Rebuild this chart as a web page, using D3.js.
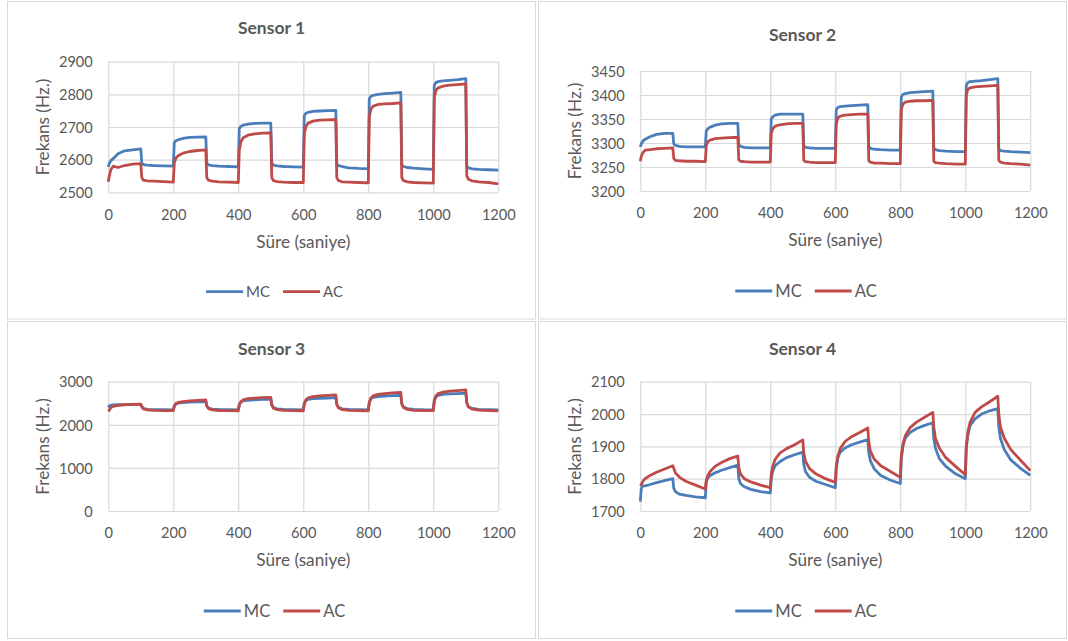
<!DOCTYPE html>
<html>
<head>
<meta charset="utf-8">
<script src="https://cdn.jsdelivr.net/npm/d3@7"></script>
<style>
  body { margin: 0; background: #fff; }
  svg text { font-family: Lato, "Open Sans", sans-serif; fill: #595959; }
</style>
</head>
<body>
<svg id="chart" width="1068" height="641"></svg>
<script>
// Sampling instants (s) shared by every sensor trace
const time = [
  0, 3, 8, 15, 30, 50, 75, 100, 103, 108, 120, 140, 170,
  200, 203, 208, 215, 230, 250, 275, 300, 303, 308, 320, 340, 370,
  400, 403, 408, 415, 430, 450, 475, 500, 503, 508, 520, 540, 570,
  600, 603, 608, 615, 630, 650, 675, 700, 703, 708, 720, 740, 770,
  800, 803, 808, 815, 830, 850, 875, 900, 903, 908, 920, 940, 970,
  1000, 1003, 1008, 1015, 1030, 1050, 1075, 1100, 1103, 1108, 1120, 1140, 1170,
  1200
];

const seriesNames = ["MC", "AC"];
const xTicks = [0, 200, 400, 600, 800, 1000, 1200];

// Sensor 1 frequency (Hz)
const sensor1MC = [
  2578, 2588, 2597, 2603, 2618, 2627, 2630, 2633, 2590, 2585, 2583, 2582, 2581,
  2580, 2652, 2658, 2661, 2665, 2668, 2669, 2670, 2590, 2584, 2582, 2580, 2579,
  2578, 2695, 2702, 2706, 2709, 2711, 2712, 2712, 2590, 2583, 2581, 2579, 2578,
  2577, 2735, 2742, 2745, 2748, 2749, 2750, 2751, 2588, 2582, 2579, 2575, 2573,
  2572, 2786, 2794, 2797, 2800, 2802, 2804, 2806, 2585, 2579, 2576, 2574, 2572,
  2570, 2828, 2836, 2839, 2841, 2843, 2845, 2848, 2580, 2575, 2572, 2570, 2569,
  2568
];
const sensor1AC = [
  2532, 2550, 2570, 2580, 2576, 2582, 2586, 2588, 2545, 2537, 2535, 2534, 2533,
  2531, 2590, 2605, 2612, 2620, 2625, 2628, 2630, 2545, 2537, 2534, 2532, 2531,
  2530, 2630, 2655, 2667, 2675, 2679, 2681, 2682, 2545, 2536, 2533, 2531, 2530,
  2530, 2680, 2702, 2712, 2718, 2721, 2722, 2723, 2545, 2536, 2532, 2531, 2530,
  2529, 2730, 2755, 2764, 2769, 2771, 2772, 2774, 2545, 2536, 2532, 2530, 2529,
  2528, 2790, 2812, 2820, 2825, 2828, 2830, 2832, 2550, 2540, 2535, 2532, 2530,
  2526
];
const sensor1YTicks = [2500, 2600, 2700, 2800, 2900];

// Sensor 2 frequency (Hz)
const sensor2MC = [
  3292, 3298, 3304, 3308, 3313, 3318, 3320, 3320, 3298, 3295, 3293, 3292, 3292,
  3292, 3325, 3330, 3333, 3337, 3340, 3341, 3341, 3297, 3293, 3291, 3290, 3290,
  3290, 3350, 3355, 3358, 3360, 3360, 3360, 3360, 3294, 3291, 3290, 3289, 3289,
  3289, 3370, 3374, 3376, 3377, 3378, 3379, 3380, 3292, 3289, 3287, 3286, 3285,
  3285, 3396, 3401, 3403, 3405, 3406, 3407, 3408, 3290, 3286, 3284, 3283, 3282,
  3282, 3420, 3426, 3428, 3429, 3430, 3432, 3434, 3288, 3284, 3283, 3282, 3281,
  3280
];
const sensor2AC = [
  3262, 3272, 3280, 3285, 3286, 3288, 3289, 3290, 3268, 3264, 3263, 3262, 3262,
  3261, 3295, 3303, 3306, 3309, 3310, 3311, 3312, 3265, 3262, 3261, 3260, 3260,
  3260, 3320, 3330, 3335, 3338, 3340, 3341, 3341, 3264, 3261, 3260, 3259, 3259,
  3259, 3340, 3352, 3356, 3358, 3359, 3360, 3360, 3263, 3260, 3258, 3258, 3257,
  3257, 3370, 3381, 3385, 3387, 3388, 3388, 3389, 3262, 3259, 3258, 3257, 3256,
  3256, 3400, 3412, 3415, 3417, 3418, 3419, 3420, 3264, 3260, 3258, 3257, 3256,
  3254
];
const sensor2YTicks = [3200, 3250, 3300, 3350, 3400, 3450];

// Sensor 3 frequency (Hz)
const sensor3MC = [
  2400, 2440, 2455, 2460, 2465, 2470, 2472, 2475, 2420, 2380, 2360, 2352, 2350,
  2348, 2440, 2490, 2505, 2515, 2525, 2532, 2540, 2440, 2390, 2365, 2355, 2350,
  2348, 2470, 2530, 2555, 2570, 2580, 2590, 2598, 2460, 2400, 2370, 2355, 2350,
  2348, 2490, 2560, 2590, 2605, 2615, 2622, 2630, 2470, 2405, 2372, 2355, 2350,
  2348, 2520, 2600, 2635, 2655, 2668, 2675, 2682, 2480, 2410, 2375, 2357, 2350,
  2348, 2560, 2650, 2685, 2705, 2718, 2725, 2735, 2500, 2420, 2380, 2360, 2352,
  2345
];
const sensor3AC = [
  2310, 2340, 2400, 2430, 2450, 2465, 2475, 2480, 2420, 2370, 2345, 2333, 2330,
  2328, 2430, 2490, 2520, 2540, 2555, 2565, 2575, 2440, 2375, 2345, 2332, 2328,
  2326, 2460, 2540, 2580, 2605, 2620, 2630, 2638, 2460, 2385, 2350, 2333, 2328,
  2326, 2490, 2580, 2625, 2655, 2673, 2685, 2695, 2480, 2395, 2352, 2335, 2328,
  2326, 2520, 2620, 2670, 2705, 2725, 2740, 2750, 2500, 2405, 2357, 2337, 2330,
  2328, 2560, 2670, 2725, 2760, 2780, 2795, 2810, 2520, 2415, 2362, 2340, 2332,
  2325
];
const sensor3YTicks = [0, 1000, 2000, 3000];

// Sensor 4 frequency (Hz)
const sensor4MC = [
  1729, 1770, 1778, 1778, 1782, 1788, 1794, 1800, 1770, 1760, 1752, 1748, 1744,
  1741, 1790, 1803, 1810, 1818, 1826, 1834, 1842, 1800, 1785, 1775, 1767, 1760,
  1756, 1800, 1825, 1840, 1853, 1865, 1874, 1882, 1845, 1822, 1805, 1792, 1782,
  1772, 1830, 1865, 1882, 1895, 1905, 1913, 1921, 1880, 1855, 1830, 1810, 1795,
  1785, 1860, 1900, 1925, 1943, 1955, 1965, 1973, 1925, 1895, 1862, 1838, 1815,
  1800, 1895, 1935, 1965, 1985, 2000, 2010, 2017, 1960, 1925, 1890, 1858, 1832,
  1810
];
const sensor4AC = [
  1778, 1782, 1792, 1800, 1810, 1820, 1830, 1840, 1832, 1818, 1805, 1792, 1780,
  1768, 1795, 1810, 1822, 1838, 1850, 1862, 1870, 1835, 1815, 1800, 1790, 1780,
  1772, 1815, 1840, 1860, 1880, 1893, 1905, 1920, 1880, 1855, 1832, 1815, 1800,
  1788, 1840, 1870, 1893, 1915, 1930, 1943, 1957, 1915, 1885, 1860, 1840, 1822,
  1804, 1870, 1905, 1932, 1958, 1975, 1990, 2005, 1960, 1925, 1895, 1865, 1838,
  1812, 1900, 1945, 1975, 2005, 2022, 2038, 2055, 2000, 1960, 1925, 1890, 1857,
  1825
];
const sensor4YTicks = [1700, 1800, 1900, 2000, 2100];

const colors = { MC: "#4a7ebb", AC: "#be4b48" };

// Panel geometry: outer frame, plot rectangle and text anchors
const panels = [
  { title: "Sensor 1", mc: sensor1MC, ac: sensor1AC, yTicks: sensor1YTicks,
    frame: [7.5, 1.5, 528, 317.5], plot: [108.3, 498.3, 61.7, 192.3],
    titleY: 27.5, xTickY: 215, xTitleY: 242, legendY: 291.7, legendCx: 274.5, legendFont: 15 },
  { title: "Sensor 2", mc: sensor2MC, ac: sensor2AC, yTicks: sensor2YTicks,
    frame: [538.5, 1.5, 528, 317.5], plot: [640.3, 1030.3, 71, 191],
    titleY: 34.7, xTickY: 212.3, xTitleY: 240, legendY: 291, legendCx: 806, legendFont: 16.6 },
  { title: "Sensor 3", mc: sensor3MC, ac: sensor3AC, yTicks: sensor3YTicks,
    frame: [7.5, 321.5, 528, 317], plot: [108.3, 498.3, 381.7, 511],
    titleY: 348.3, xTickY: 532.3, xTitleY: 560, legendY: 611, legendCx: 274.5, legendFont: 16.6 },
  { title: "Sensor 4", mc: sensor4MC, ac: sensor4AC, yTicks: sensor4YTicks,
    frame: [538.5, 321.5, 528, 317], plot: [640.3, 1030.3, 381.7, 511],
    titleY: 348.3, xTickY: 532.3, xTitleY: 560, legendY: 611, legendCx: 806, legendFont: 16.6 }
];

const svg = d3.select("#chart");
const gridColor = "#d9d9d9";
const fontStack = "Lato, 'Open Sans', sans-serif";

panels.forEach(p => {
  const [fx, fy, fw, fh] = p.frame;
  const [x0, x1, yTop, yBot] = p.plot;
  const g = svg.append("g");

  g.append("rect")
    .attr("x", fx).attr("y", fy).attr("width", fw).attr("height", fh)
    .attr("fill", "#fff").attr("stroke", gridColor).attr("stroke-width", 1);

  const x = d3.scaleLinear().domain([0, 1200]).range([x0, x1]);
  const y = d3.scaleLinear()
    .domain([d3.min(p.yTicks), d3.max(p.yTicks)])
    .range([yBot, yTop]);

  // horizontal gridlines
  g.append("g")
    .attr("transform", `translate(${x0},0)`)
    .call(d3.axisLeft(y).tickValues(p.yTicks).tickSize(-(x1 - x0)).tickFormat(""))
    .call(s => s.select(".domain").remove())
    .call(s => s.selectAll("line").attr("stroke", gridColor).attr("stroke-width", 1.2));

  // vertical gridlines
  g.append("g")
    .attr("transform", `translate(0,${yBot})`)
    .call(d3.axisBottom(x).tickValues(xTicks).tickSize(-(yBot - yTop)).tickFormat(""))
    .call(s => s.select(".domain").remove())
    .call(s => s.selectAll("line").attr("stroke", gridColor).attr("stroke-width", 1.2));

  // y tick labels
  g.append("g")
    .attr("transform", `translate(${x0},0)`)
    .call(d3.axisLeft(y).tickValues(p.yTicks).tickSize(0).tickPadding(15.5).tickFormat(d3.format("d")))
    .call(s => s.select(".domain").remove())
    .call(s => s.selectAll("text")
      .attr("font-size", "14.6px").attr("dy", "0.36em")
      .style("font-family", fontStack).attr("fill", "#595959"));

  // x tick labels
  g.append("g")
    .attr("transform", `translate(0,${yBot})`)
    .call(d3.axisBottom(x).tickValues(xTicks).tickSize(0).tickFormat(d3.format("d")))
    .call(s => s.select(".domain").remove())
    .call(s => s.selectAll("text")
      .attr("y", p.xTickY - yBot).attr("dy", "0.36em")
      .attr("font-size", "14.6px")
      .style("font-family", fontStack).attr("fill", "#595959"));

  // series
  const line = d3.line().x((d, i) => x(time[i])).y(d => y(d));
  [["MC", p.mc], ["AC", p.ac]].forEach(([name, vals]) => {
    g.append("path")
      .datum(vals)
      .attr("d", line)
      .attr("fill", "none")
      .attr("stroke", colors[name])
      .attr("stroke-width", 2.8)
      .attr("stroke-linejoin", "round");
  });

  // titles
  g.append("text")
    .attr("x", fx + fw / 2).attr("y", p.titleY).attr("dy", "0.36em")
    .attr("text-anchor", "middle").attr("font-size", "17.5px").attr("font-weight", "bold")
    .text(p.title);

  g.append("text")
    .attr("x", (x0 + x1) / 2).attr("y", p.xTitleY).attr("dy", "0.36em")
    .attr("text-anchor", "middle").attr("font-size", "17.2px")
    .text("Süre (saniye)");

  const ytx = x0 - 66, yty = (yTop + yBot) / 2;
  g.append("text")
    .attr("transform", `translate(${ytx},${yty}) rotate(-90)`)
    .attr("dy", "0.36em")
    .attr("text-anchor", "middle").attr("font-size", "17.2px")
    .text("Frekans (Hz.)");

  // legend
  const lg = g.append("g");
  const lineLen = 37, gapText = 3, gapItem = 13;
  let cursor = 0;
  seriesNames.forEach((name, i) => {
    lg.append("line")
      .attr("x1", cursor).attr("x2", cursor + lineLen)
      .attr("y1", 0).attr("y2", 0)
      .attr("stroke", colors[name]).attr("stroke-width", 2.8);
    const t = lg.append("text")
      .attr("x", cursor + lineLen + gapText).attr("y", 0).attr("dy", "0.36em")
      .attr("font-size", p.legendFont + "px")
      .text(name);
    cursor += lineLen + gapText + t.node().getComputedTextLength();
    if (i < seriesNames.length - 1) cursor += gapItem;
  });
  lg.attr("transform", `translate(${p.legendCx - cursor / 2},${p.legendY})`);
});
</script>
</body>
</html>
